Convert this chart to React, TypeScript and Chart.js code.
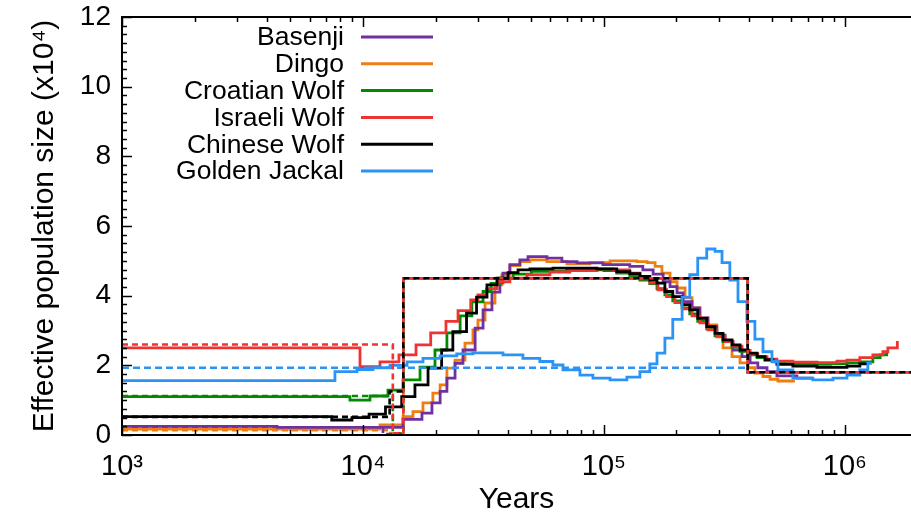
import React, { useEffect, useRef } from 'react';
import { Chart, registerables } from 'chart.js';

Chart.register(...registerables);

const FONT = '"Liberation Sans", Arial, Helvetica, sans-serif';

// ---- PSMC estimates (years, Ne x10^4) ----
const basenjiYears = [1000, 4400, 14660, 17570, 19330, 20900, 22300, 24100, 26000, 29200, 31500, 34300, 37000, 38100, 40700, 44800, 48400, 58000, 66900, 77300, 99000, 128000, 145000, 160000, 176000, 188000, 201000, 213000, 232000, 250000, 270000, 294000, 318000, 343000, 374000, 404000, 435000, 475000, 522000, 632000, 736000];
const basenjiNe = [0.25, 0.22, 0.45, 0.63, 0.92, 1.25, 1.63, 2.06, 2.44, 3.07, 3.59, 4.1, 4.37, 4.65, 4.89, 5.03, 5.12, 5.08, 4.98, 4.94, 4.89, 4.84, 4.74, 4.62, 4.4, 4.26, 4.08, 3.83, 3.65, 3.36, 3.11, 2.87, 2.68, 2.44, 2.25, 2.07, 1.93, 1.82, 1.7, 1.63, 1.63];

const dingoYears = [1000, 11770, 14660, 16120, 17740, 19500, 20900, 22300, 24100, 26500, 28600, 30000, 32100, 35300, 37700, 40700, 44800, 49300, 58000, 70200, 87400, 106000, 137000, 151000, 163000, 174000, 188000, 201000, 217000, 232000, 250000, 270000, 294000, 312000, 340000, 367000, 396000, 423000, 457000, 489000, 527000, 620000];
const dingoNe = [0.17, 0.29, 0.53, 0.67, 0.92, 1.2, 1.44, 1.92, 2.15, 2.64, 3.02, 3.3, 3.79, 4.31, 4.6, 4.86, 4.98, 5.03, 4.98, 4.91, 4.95, 5.0, 4.98, 4.95, 4.84, 4.65, 4.4, 4.22, 3.94, 3.65, 3.36, 3.16, 2.82, 2.5, 2.25, 2.07, 1.93, 1.78, 1.68, 1.6, 1.55, 1.55];

const croatianYears = [1000, 8830, 10690, 12700, 14660, 17250, 19900, 22300, 25300, 28300, 31500, 34000, 37000, 42000, 50000, 70000, 100000, 113000, 128000, 141000, 155000, 166000, 179000, 193000, 211000, 227000, 245000, 267000, 289000, 312000, 340000, 367000, 396000, 432000, 466000, 503000, 560000, 650000, 870000, 1020000, 1153000, 1306000, 1400000, 1490000];
const croatianNe = [1.1, 1.0, 1.12, 1.29, 1.58, 1.95, 2.44, 2.93, 3.42, 3.82, 4.12, 4.35, 4.5, 4.62, 4.7, 4.74, 4.72, 4.65, 4.55, 4.45, 4.35, 4.2, 4.02, 3.85, 3.65, 3.48, 3.26, 3.05, 2.85, 2.68, 2.52, 2.4, 2.3, 2.22, 2.15, 2.1, 2.05, 2.03, 2.04, 2.07, 2.1, 2.22, 2.3, 2.39];

const israeliYears = [1000, 9720, 11770, 14100, 16600, 19100, 22100, 24800, 28000, 30000, 32600, 36000, 40700, 47900, 59700, 72200, 93500, 109000, 128000, 141000, 155000, 167500, 182000, 197000, 213000, 232000, 250000, 270000, 294000, 318000, 343000, 374000, 404000, 435000, 475000, 522000, 608000, 765000, 927000, 1020000, 1153000, 1306000, 1437000, 1507000, 1650000];
const israeliNe = [2.5, 1.96, 2.1, 2.3, 2.59, 2.93, 3.26, 3.57, 3.88, 4.02, 4.2, 4.4, 4.5, 4.6, 4.68, 4.72, 4.77, 4.74, 4.65, 4.48, 4.37, 4.17, 3.97, 3.8, 3.62, 3.42, 3.22, 3.02, 2.84, 2.68, 2.55, 2.43, 2.33, 2.25, 2.18, 2.12, 2.09, 2.08, 2.12, 2.15, 2.22, 2.3, 2.39, 2.5, 2.7];

const chineseYears = [1000, 7420, 9000, 10600, 12400, 14480, 16430, 18620, 21200, 23600, 26900, 29600, 32700, 36000, 40000, 44000, 49300, 61400, 93500, 113000, 128000, 141000, 155000, 166000, 179000, 193000, 211000, 227000, 245000, 267000, 289000, 312000, 340000, 367000, 396000, 432000, 466000, 503000, 522000, 608000, 765000, 1020000, 1153000, 1245000];
const chineseNe = [0.53, 0.43, 0.5, 0.6, 0.81, 1.1, 1.44, 1.92, 2.44, 2.97, 3.5, 3.96, 4.31, 4.5, 4.66, 4.74, 4.77, 4.79, 4.77, 4.69, 4.63, 4.55, 4.45, 4.36, 4.12, 3.97, 3.74, 3.59, 3.35, 3.11, 2.92, 2.73, 2.59, 2.44, 2.35, 2.25, 2.16, 2.11, 2.03, 1.98, 1.94, 1.98, 2.04, 2.04];

const jackalYears = [1000, 7650, 9440, 11000, 12940, 15230, 17740, 20900, 24500, 28600, 38100, 46100, 54200, 61400, 67600, 79500, 90000, 106000, 124500, 141000, 155000, 166000, 179000, 193000, 211000, 227000, 245000, 267000, 289000, 309000, 333000, 360000, 392000, 423000, 457000, 498000, 527000, 608000, 736000, 892000, 1020000, 1153000, 1245000, 1294000];
const jackalNe = [1.56, 1.82, 1.88, 1.93, 2.0, 2.1, 2.2, 2.27, 2.33, 2.36, 2.3, 2.2, 2.11, 2.01, 1.87, 1.72, 1.63, 1.58, 1.66, 1.82, 2.04, 2.35, 2.78, 3.32, 3.96, 4.6, 5.08, 5.34, 5.27, 4.95, 4.45, 3.83, 3.26, 2.75, 2.39, 2.11, 1.87, 1.63, 1.58, 1.63, 1.72, 1.87, 2.06, 2.06];

// ---- simulated (true) histories, dashed ----
const simBasenjiYears = [1000, 12100, 14700, 395000, 1880000];
const simBasenjiNe = [0.2, 0.03, 4.5, 1.8, 1.8];
const simDingoYears = [1000, 13000, 14700, 395000, 1880000];
const simDingoNe = [0.14, 0.05, 4.5, 1.8, 1.8];
const simCroatianYears = [1000, 13300, 14700, 395000, 1880000];
const simCroatianNe = [1.12, 0.05, 4.5, 1.8, 1.8];
const simIsraeliYears = [1000, 13300, 14700, 395000, 1880000];
const simIsraeliNe = [2.6, 0.05, 4.5, 1.8, 1.8];
const simChineseYears = [1000, 12900, 14700, 395000, 1880000];
const simChineseNe = [0.52, 1.25, 4.5, 1.8, 1.8];
const simJackalYears = [1000, 395000, 1880000];
const simJackalNe = [1.93, 1.8, 1.8];

// ---- axes ----
const xMin = 1000;
const xMax = 1880000;
const xMajorTicks = [1e3, 1e4, 1e5, 1e6];
const xTickLabels = ['10³', '10⁴', '10⁵', '10⁶'];
const yMajorTicks = [0, 2, 4, 6, 8, 10, 12];
const xTitle = 'Years';
const yTitle = 'Effective population size (x10⁴)';

const COLORS = {
  basenji: '#7030A0',
  dingo: '#F07D10',
  croatian: '#008A00',
  israeli: '#EE3333',
  chinese: '#000000',
  jackal: '#2B93F5',
};

function pts(t: number[], v: number[]) {
  return t.map((x, i) => ({ x, y: v[i] }));
}

function solid(label: string, t: number[], v: number[], color: string, legendRow: number) {
  return {
    label,
    data: pts(t, v),
    borderColor: color,
    backgroundColor: color,
    borderWidth: 2.8,
    pointRadius: 0,
    fill: false,
    stepped: 'before',
    legendRow,
  } as any;
}

function dashed(label: string, t: number[], v: number[], color: string, dash: number[]) {
  return {
    label,
    data: pts(t, v),
    borderColor: color,
    backgroundColor: color,
    borderWidth: 2.6,
    borderDash: dash,
    pointRadius: 0,
    fill: false,
    stepped: 'before',
    legendRow: -1,
  } as any;
}

const overlayPlugin = {
  id: 'overlay',
  afterDraw(chart: any) {
    const { ctx, chartArea: a, scales } = chart;
    const xs = scales.x;
    const ys = scales.y;
    const seg = (x0: number, y0: number, x1: number, y1: number) => {
      ctx.beginPath();
      ctx.moveTo(x0, y0);
      ctx.lineTo(x1, y1);
      ctx.stroke();
    };
    ctx.save();
    ctx.strokeStyle = '#000';
    ctx.lineWidth = 1.5;
    // x ticks (bottom & top, inward)
    for (let d = 3; d <= 6; d++) {
      for (let m = 1; m <= 9; m++) {
        const v = m * Math.pow(10, d);
        if (v > xs.max) break;
        const px = Math.round(xs.getPixelForValue(v)) + 0.5;
        const len = m === 1 ? 10 : 5;
        seg(px, a.bottom, px, a.bottom - len);
        seg(px, a.top, px, a.top + len);
      }
    }
    // y ticks (left, inward)
    for (let i = 0; i <= 48; i++) {
      const v = i * 0.25;
      const py = Math.round(ys.getPixelForValue(v)) + 0.5;
      const len = i % 8 === 0 ? 10 : 5;
      seg(a.left, py, a.left + len, py);
    }
    // frame
    ctx.lineWidth = 2;
    ctx.beginPath();
    ctx.moveTo(a.right, a.top);
    ctx.lineTo(a.left, a.top);
    ctx.lineTo(a.left, a.bottom);
    ctx.lineTo(a.right, a.bottom);
    ctx.stroke();

    // legend
    const rows = chart.data.datasets
      .filter((d: any) => d.legendRow >= 0)
      .sort((p: any, q: any) => p.legendRow - q.legendRow);
    ctx.font = `26.5px ${FONT}`;
    ctx.textAlign = 'right';
    ctx.textBaseline = 'middle';
    rows.forEach((d: any, i: number) => {
      const y = 37 + i * 26.8;
      ctx.fillStyle = '#000';
      ctx.fillText(d.label, 344, y + 1);
      ctx.strokeStyle = d.borderColor;
      ctx.lineWidth = 3;
      seg(361, y, 433, y);
    });
    ctx.restore();
  },
};

export default function App() {
  const ref = useRef<HTMLCanvasElement>(null);
  useEffect(() => {
    if (!ref.current) return;
    const datasets = [
      dashed('Chinese Wolf (sim)', simChineseYears, simChineseNe, COLORS.chinese, [6, 4]),
      dashed('Israeli Wolf (sim)', simIsraeliYears, simIsraeliNe, COLORS.israeli, [6, 4]),
      dashed('Golden Jackal (sim)', simJackalYears, simJackalNe, COLORS.jackal, [7, 4]),
      solid('Golden Jackal', jackalYears, jackalNe, COLORS.jackal, 5),
      solid('Chinese Wolf', chineseYears, chineseNe, COLORS.chinese, 4),
      solid('Israeli Wolf', israeliYears, israeliNe, COLORS.israeli, 3),
      solid('Croatian Wolf', croatianYears, croatianNe, COLORS.croatian, 2),
      solid('Basenji', basenjiYears, basenjiNe, COLORS.basenji, 0),
      solid('Dingo', dingoYears, dingoNe, COLORS.dingo, 1),
      dashed('Croatian Wolf (sim)', simCroatianYears, simCroatianNe, COLORS.croatian, [6, 4]),
      dashed('Basenji (sim)', simBasenjiYears, simBasenjiNe, COLORS.basenji, [6, 4]),
      dashed('Dingo (sim)', simDingoYears, simDingoNe, COLORS.dingo, [6, 4]),
    ];
    const chart = new Chart(ref.current, {
      type: 'line',
      data: { datasets },
      options: {
        responsive: false,
        animation: false,
        layout: { padding: { top: 17, right: 0, left: 0, bottom: 0 } },
        plugins: { legend: { display: false }, tooltip: { enabled: false } },
        scales: {
          x: {
            type: 'logarithmic',
            min: xMin,
            max: xMax,
            afterBuildTicks: (s: any) => {
              s.ticks = xMajorTicks.map((v) => ({ value: v, major: true }));
            },
            afterFit: (s: any) => {
              s.height = 84;
              s.paddingLeft = 0;
              s.paddingRight = 0;
            },
            grid: { display: false, drawTicks: false },
            border: { display: false },
            ticks: {
              autoSkip: false,
              maxRotation: 0,
              padding: 15,
              color: '#000',
              font: { family: FONT, size: 29 },
              callback: (v: any) => {
                const i = xMajorTicks.indexOf(Number(v));
                return i >= 0 ? xTickLabels[i] : '';
              },
            },
            title: {
              display: true,
              text: xTitle,
              color: '#000',
              font: { family: FONT, size: 30 },
              padding: { top: 0, bottom: 1 },
            },
          },
          y: {
            type: 'linear',
            min: 0,
            max: 12,
            afterBuildTicks: (s: any) => {
              s.ticks = yMajorTicks.map((v) => ({ value: v }));
            },
            afterFit: (s: any) => {
              s.width = 122;
              s.paddingTop = 0;
              s.paddingBottom = 0;
            },
            grid: { display: false, drawTicks: false },
            border: { display: false },
            ticks: {
              padding: 11,
              color: '#000',
              font: { family: FONT, size: 28 },
            },
            title: {
              display: true,
              text: yTitle,
              color: '#000',
              font: { family: FONT, size: 30 },
              padding: { top: 27, bottom: 0 },
            },
          },
        },
      } as any,
      plugins: [overlayPlugin],
    });
    return () => chart.destroy();
  }, []);
  return (
    <div style={{ position: 'absolute', left: 0, top: 0, width: 911, height: 519, background: '#fff' }}>
      <canvas ref={ref} width={911} height={519} style={{ display: 'block' }} />
    </div>
  );
}
